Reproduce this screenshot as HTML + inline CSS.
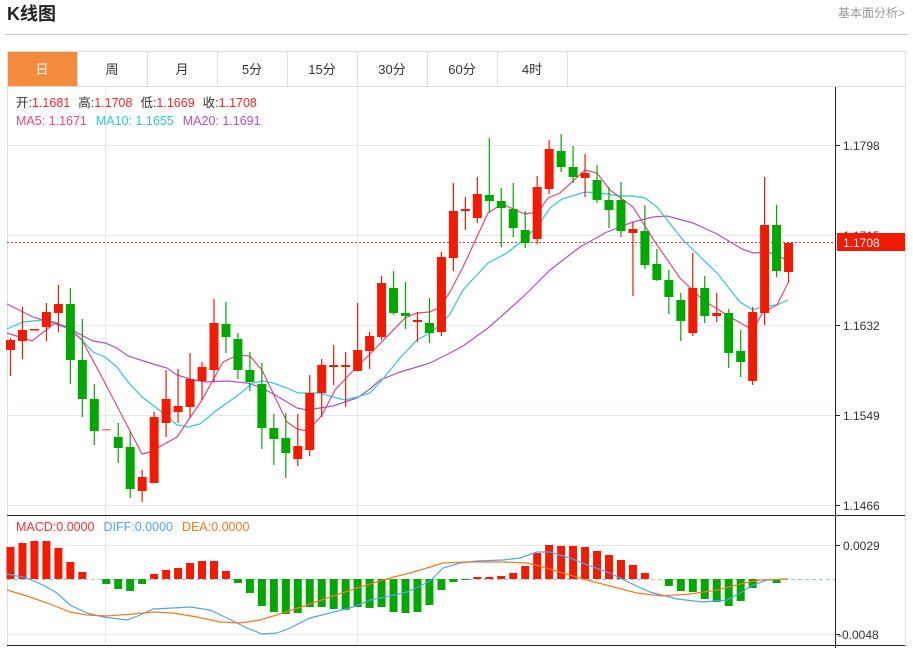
<!DOCTYPE html>
<html><head><meta charset="utf-8"><style>
body{margin:0;background:#fff;width:913px;height:648px;overflow:hidden;font-family:"Liberation Sans","Noto Sans CJK SC",sans-serif}
svg{position:absolute;left:0;top:0}
</style></head><body>
<svg id="s" width="913" height="648" xmlns="http://www.w3.org/2000/svg" font-family="Liberation Sans, Noto Sans CJK SC, sans-serif">
<text x="7" y="20" font-size="18" font-weight="bold" fill="#222">K线图</text>
<text x="905" y="17" font-size="12" fill="#999" text-anchor="end">基本面分析&gt;</text>
<line x1="4" y1="34.5" x2="909" y2="34.5" stroke="#ccc"/>
<rect x="7.5" y="51.5" width="898" height="594" fill="none" stroke="#ddd"/>
<rect x="8" y="52" width="69" height="34" fill="#f28c3c"/>
<line x1="7" y1="86.5" x2="905" y2="86.5" stroke="#ddd"/>
<g stroke="#ddd"><line x1="77.5" y1="52" x2="77.5" y2="86"/><line x1="147.5" y1="52" x2="147.5" y2="86"/><line x1="217.5" y1="52" x2="217.5" y2="86"/><line x1="287.5" y1="52" x2="287.5" y2="86"/><line x1="357.5" y1="52" x2="357.5" y2="86"/><line x1="427.5" y1="52" x2="427.5" y2="86"/><line x1="497.5" y1="52" x2="497.5" y2="86"/><line x1="567.5" y1="52" x2="567.5" y2="86"/></g>
<g font-size="13" text-anchor="middle" fill="#333"><text x="42" y="74" fill="#fff">日</text><text x="112" y="74">周</text><text x="182" y="74">月</text><text x="252" y="74">5分</text><text x="322" y="74">15分</text><text x="392" y="74">30分</text><text x="462" y="74">60分</text><text x="532" y="74">4时</text></g>
<g stroke="#e3e8ee"><line x1="105.5" y1="87" x2="105.5" y2="646"/><line x1="357.5" y1="87" x2="357.5" y2="646"/>
<line x1="7" y1="145.5" x2="835" y2="145.5"/><line x1="7" y1="235.5" x2="835" y2="235.5"/><line x1="7" y1="325.5" x2="835" y2="325.5"/><line x1="7" y1="415.5" x2="835" y2="415.5"/><line x1="7" y1="505.5" x2="835" y2="505.5"/>
<line x1="7" y1="545.5" x2="835" y2="545.5"/><line x1="7" y1="634.5" x2="835" y2="634.5"/></g>
<line x1="7" y1="579.5" x2="835" y2="579.5" stroke="#9cc8e0" stroke-dasharray="4,3"/>
<line x1="7" y1="515.5" x2="905" y2="515.5" stroke="#222"/>
<line x1="7" y1="645.5" x2="905" y2="645.5" stroke="#222"/>
<line x1="835.5" y1="87" x2="835.5" y2="648" stroke="#222"/>
<g stroke="#222"><line x1="835" y1="145.5" x2="840" y2="145.5"/><line x1="835" y1="325.5" x2="840" y2="325.5"/><line x1="835" y1="415.5" x2="840" y2="415.5"/><line x1="835" y1="505.5" x2="840" y2="505.5"/><line x1="835" y1="545.5" x2="840" y2="545.5"/><line x1="835" y1="634.5" x2="840" y2="634.5"/></g>
<g font-size="12" fill="#333"><text x="843" y="150">1.1798</text><text x="843" y="240">1.1715</text><text x="843" y="330">1.1632</text><text x="843" y="420">1.1549</text><text x="843" y="510">1.1466</text><text x="843" y="550">0.0029</text><text x="838" y="639">-0.0048</text></g>
<line x1="7" y1="242.5" x2="835" y2="242.5" stroke="#f33" stroke-dasharray="2,2"/>
<rect x="837" y="233" width="68" height="18" fill="#f21a00"/>
<text x="843" y="247" font-size="12" fill="#fff">1.1708</text>
<g id="c"></g>
<g font-size="12.5"><text x="16" y="107"><tspan fill="#333">开:</tspan><tspan fill="#f22">1.1681</tspan><tspan fill="#333" dx="8">高:</tspan><tspan fill="#f22">1.1708</tspan><tspan fill="#333" dx="8">低:</tspan><tspan fill="#f22">1.1669</tspan><tspan fill="#333" dx="8">收:</tspan><tspan fill="#f22">1.1708</tspan></text>
<text x="16" y="125"><tspan fill="#e8467c">MA5: 1.1671</tspan><tspan fill="#2ec7d8" dx="9">MA10: 1.1655</tspan><tspan fill="#b04fc8" dx="9">MA20: 1.1691</tspan></text>
<text x="16" y="531"><tspan fill="#f33">MACD:0.0000</tspan><tspan fill="#4da6f0" dx="9">DIFF:0.0000</tspan><tspan fill="#f47a20" dx="9">DEA:0.0000</tspan></text></g>
</svg>
<script>
var R='#f21a00',G='#00a800',ns='http://www.w3.org/2000/svg',g=document.getElementById('c');
function el(t,a){var e=document.createElementNS(ns,t);for(var k in a)e.setAttribute(k,a[k]);g.appendChild(e);return e}
// top,bottom,wickTop,wickBot,color
var C=[[340,350,338,376,R],[330,341,307,359,R],[329,330,329,330,R],[312,327,303,341,R],[304,313,285,332,R],[304,360,288,384,G],[360,399,319,417,G],[399,431,384,445,G],[429,430,429,430,'#f77'],[437,448,423,463,G],[447,489,432,498,G],[477,491,470,502,R],[417,483,412,483,R],[399,423,370,437,R],[406,412,369,423,R],[379,407,353,417,R],[367,381,362,400,R],[323,370,299,382,R],[324,337,302,353,G],[339,370,333,379,G],[370,382,352,391,G],[384,428,363,449,G],[428,439,414,465,G],[438,453,413,478,G],[446,459,414,466,R],[393,450,375,456,R],[365,393,359,417,R],[365,367,345,385,R],[365,367,352,407,R],[350,371,303,371,R],[336,351,332,369,R],[283,337,276,340,R],[288,313,271,315,G],[313,316,282,329,G],[320,322,312,342,R],[323,333,298,343,G],[257,332,252,336,R],[211,258,183,271,R],[209,211,197,230,R],[194,218,177,223,R],[195,201,138,213,G],[201,208,188,247,G],[209,228,183,237,G],[230,243,211,248,G],[187,239,176,244,R],[149,189,140,194,R],[151,167,134,172,G],[167,177,146,183,G],[173,178,154,197,R],[180,200,165,203,G],[200,210,187,228,G],[200,231,182,237,G],[229,233,222,296,R],[231,265,205,269,G],[264,280,249,281,G],[280,297,270,314,G],[300,321,293,341,G],[288,333,253,336,R],[288,316,276,323,G],[313,316,293,322,R],[313,353,309,368,G],[351,362,330,377,G],[312,381,307,385,R],[225,313,177,325,R],[225,271,205,277,G],[243,272,243,283,R]];
function X(i){return 10.5+i*11.97}
var M=[547,543,541,541,548,562,572,579,584,589,591,584,574,570,568,563,561,561,571,583,593,606,612,614,613,607,607,609,610,607,608,607,612,613,612,605,590,582,580,577,577,576,573,566,553,545,546,546,547,551,555,560,565,573,579,586,591,592,599,602,606,601,588,579,583,579];
M.forEach(function(v,i){var x=X(i)-4;if(Math.abs(v-579)<0.5)return;var c=v<579?R:G;el('rect',{x:x,y:Math.min(v,579),width:8,height:Math.abs(v-579),fill:c});});
function pl(p,c){el('polyline',{points:p,fill:'none',stroke:c,'stroke-width':1.2});}
pl('7,304 33,317 53,323 70,329 93,341 105,343 117,348 128,356 153,364 167,368 177,375 193,380 207,382 227,381 247,383 260,387 277,396 297,408 307,410 320,408 333,406 345,402 357,398 370,389 380,380 400,372 417,367 430,363 450,353 463,346 488,328 523,297 550,270 580,247 607,232 633,222 653,217 667,216 693,223 717,234 742,249 753,253 767,252 777,255 788,261','#b04fc8');
pl('7,329 23,322 43,320 55,322 67,328 80,338 93,352 105,357 117,367 128,382 142,397 163,413 177,425 188,427 200,424 217,410 237,396 253,383 263,381 273,383 287,388 298,393 320,393 333,397 345,400 357,397 370,393 382,380 400,358 417,340 430,333 440,325 450,314 463,290 488,263 507,253 523,240 537,227 550,208 562,199 585,192 600,193 620,196 633,196 645,198 657,207 683,240 717,273 740,302 753,310 763,306 777,305 788,300','#2ec7d8');
pl('7,333 32,341 55,323 68,327 82,340 105,383 142,454 150,452 177,437 202,400 213,380 223,362 238,355 250,356 262,370 275,397 287,422 297,429 308,431 322,415 335,390 347,377 357,367 372,352 405,318 417,313 430,312 440,307 450,292 463,267 488,213 502,204 525,214 538,212 548,198 560,193 585,170 597,173 610,190 633,207 657,245 680,278 703,300 730,317 753,330 763,312 777,305 788,283','#e8467c');
pl('7,574 27,578 45,586 57,593 70,605 87,613 103,617 127,620 140,615 153,609 173,608 190,607 210,610 227,618 247,628 262,634 277,633 290,628 310,618 330,613 353,607 370,600 390,596 407,592 420,586 430,581 443,568 460,563 477,561 503,560 520,558 537,552 550,552 570,558 590,566 610,573 630,583 650,592 677,599 703,602 727,600 740,593 753,585 767,580 788,579','#4da6f0');
pl('7,590 27,596 50,604 70,612 87,615 107,616 133,614 153,612 173,613 197,617 220,622 240,623 260,620 283,613 307,605 333,596 360,587 390,578 410,573 427,568 443,563 467,562 503,562 527,563 543,567 563,573 583,579 610,586 637,593 663,596 690,594 717,590 740,584 760,580 788,579','#f47a20');
C.forEach(function(c,i){var x=X(i);el('line',{x1:x,y1:c[2],x2:x,y2:c[3],stroke:c[4],'stroke-width':1.2});el('rect',{x:x-4.5,y:c[0],width:9,height:Math.max(1.5,c[1]-c[0]),fill:c[4]});});
</script>
</body></html>
